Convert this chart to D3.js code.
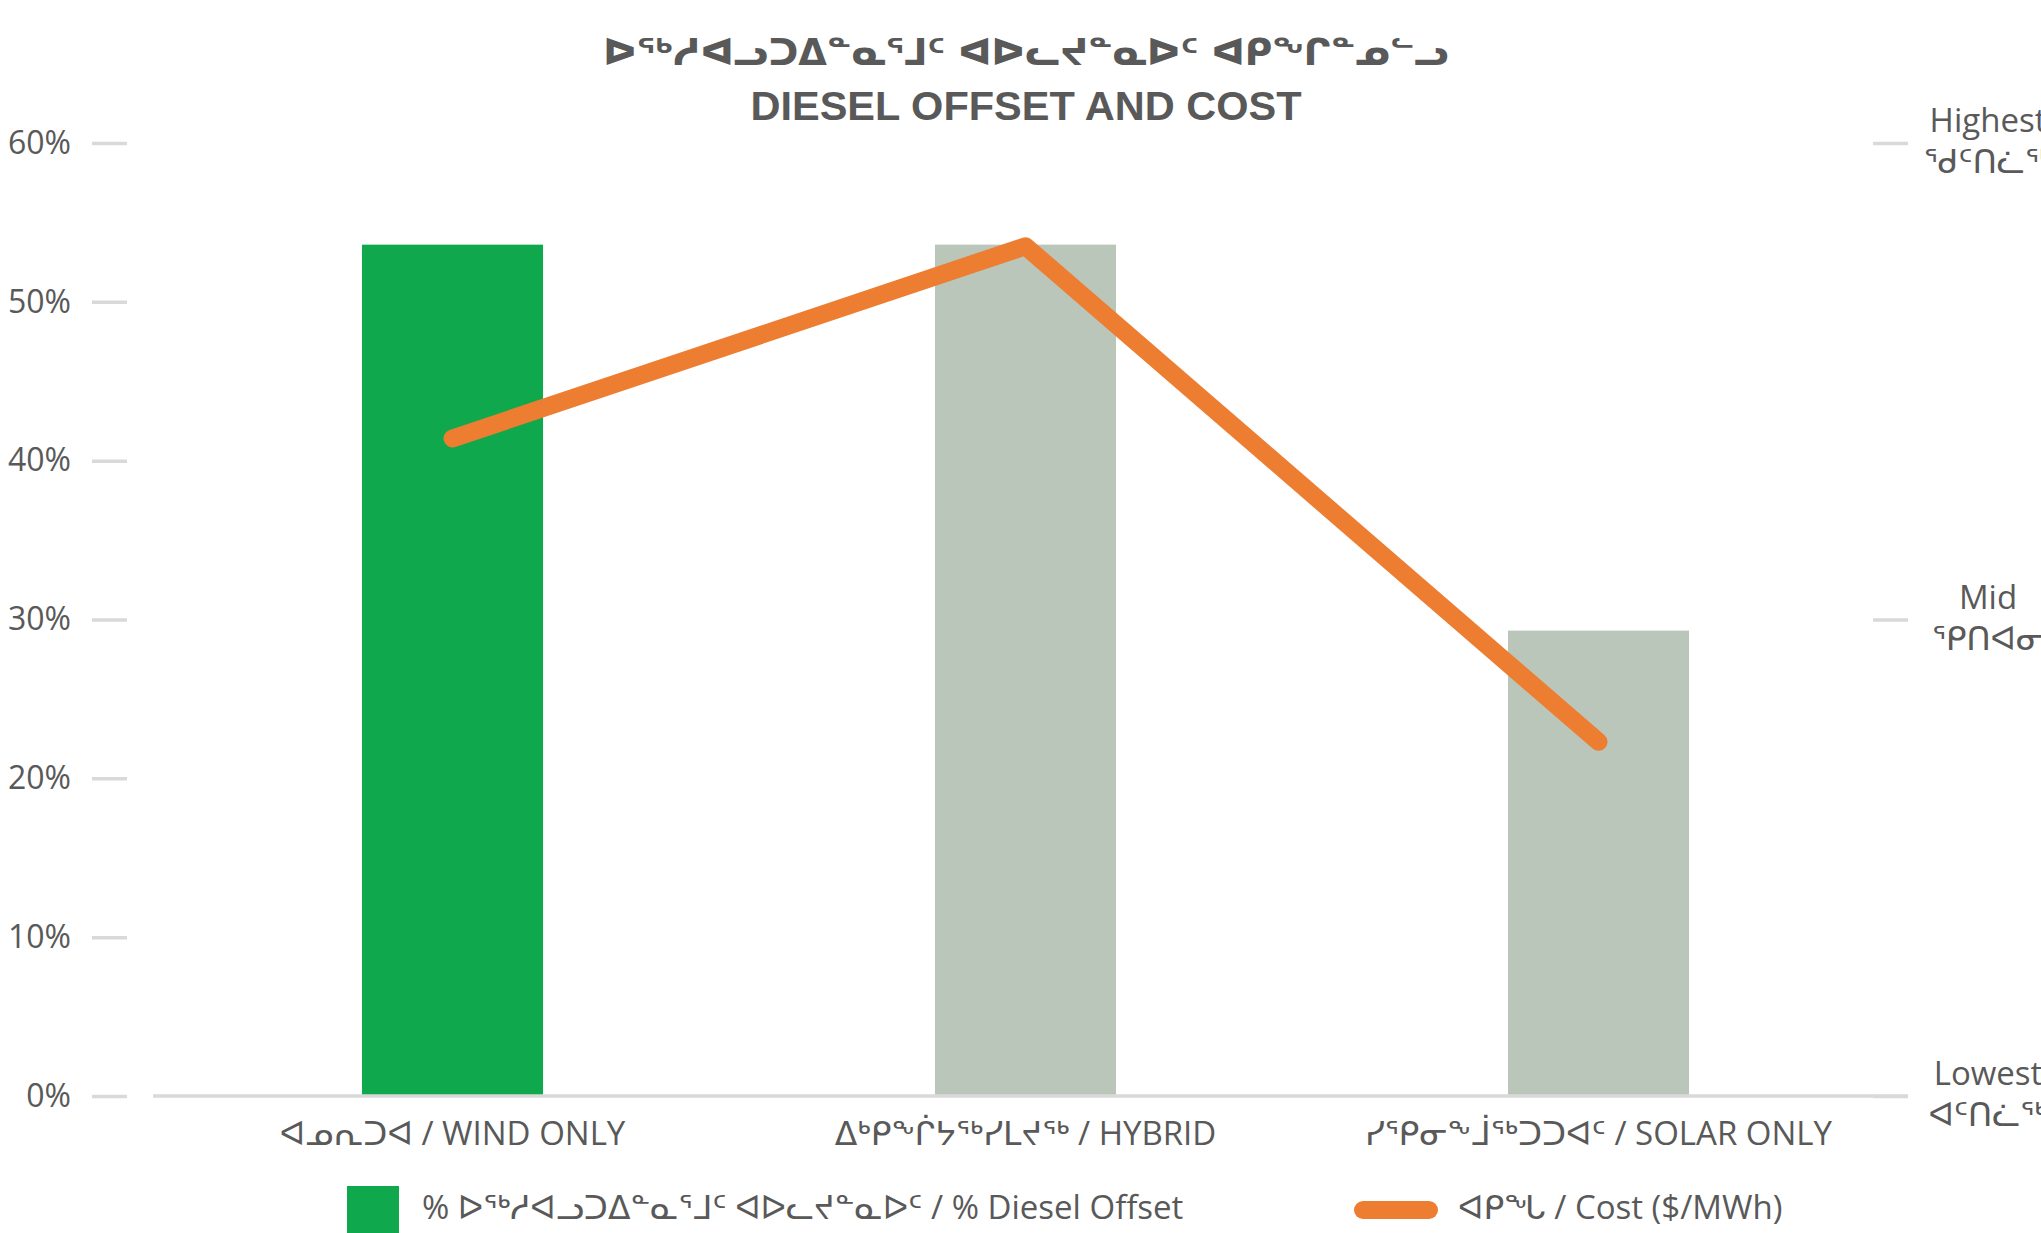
<!DOCTYPE html>
<html>
<head>
<meta charset="utf-8">
<script src="https://cdn.jsdelivr.net/npm/d3@7"></script>
<style>
  html, body { margin: 0; padding: 0; background: #fff; overflow: hidden; }
  svg { display: block; }
</style>
</head>
<body>
<div id="chart"></div>
<script>
// --- data ---
const titleLines = [
  "ᐅᖅᓱᐊᓗᑐᐃᓐᓇᕐᒧᑦ ᐊᐅᓚᔪᓐᓇᐅᑦ ᐊᑭᖏᓐᓄᓪᓗ",
  "DIESEL OFFSET AND COST",
];
const categories = [
  "ᐊᓄᕆᑐᐊ / WIND ONLY",
  "ᐃᒃᑭᖕᒌᔭᖅᓯᒪᔪᖅ / HYBRID",
  "ᓯᕿᓂᖕᒨᖅᑐᑐᐊᑦ / SOLAR ONLY",
];
const dieselOffset = [53.6, 53.6, 29.3]; // % diesel offset
const costIndex = [41.4, 53.5, 22.3]; // relative cost, plotted on the Lowest..Highest axis
const barColors = ["#10a84d", "#bac6ba", "#bac6ba"];
const leftTicks = [0, 10, 20, 30, 40, 50, 60];
const rightTicks = [0, 30, 60];
const rightTickLabels = [
  ["Lowest", "ᐊᑦᑎᓛᖅ"],
  ["Mid", "ᕿᑎᐊᓂ"],
  ["Highest", "ᖁᑦᑎᓛᖅ"],
];
const legendLabels = [
  "% ᐅᖅᓱᐊᓗᑐᐃᓐᓇᕐᒧᑦ ᐊᐅᓚᔪᓐᓇᐅᑦ / % Diesel Offset",
  "ᐊᑭᖓ / Cost ($/MWh)",
];

const width = 2041;
const height = 1233;
const textColor = "#595959";
const axisColor = "#d9d9d9";
const lineColor = "#ed7d31";
const font = "'Open Sans', 'DejaVu Sans', sans-serif";

const x = d3.scaleBand().domain(categories).range([166, 1885]).padding(0);
const y = d3.scaleLinear().domain([0, 60]).range([1096, 143]);
const yRight = d3.scaleLinear().domain([0, 60]).range([1096, 143]);
const barWidth = x.bandwidth() * 0.316;

const svg = d3
  .select("#chart")
  .append("svg")
  .attr("width", width)
  .attr("height", height)
  .attr("viewBox", `0 0 ${width} ${height}`)
  .style("font-family", font);

// title
svg
  .append("text")
  .attr("x", 1026)
  .attr("y", 54)
  .attr("text-anchor", "middle")
  .attr("dominant-baseline", "middle")
  .attr("fill", textColor)
  .attr("font-family", "'DejaVu Sans', sans-serif")
  .attr("font-size", 37)
  .attr("font-weight", 700)
  .text(titleLines[0]);

svg
  .append("text")
  .attr("x", 1026)
  .attr("y", 109)
  .attr("text-anchor", "middle")
  .attr("dominant-baseline", "middle")
  .attr("fill", textColor)
  .attr("font-family", "'Liberation Sans', Arial, sans-serif")
  .attr("font-size", 41.5)
  .attr("font-weight", 700)
  .text(titleLines[1]);

// left axis
svg
  .append("g")
  .attr("transform", "translate(127, 0)")
  .call(
    d3
      .axisLeft(y)
      .tickValues(leftTicks)
      .tickSize(35)
      .tickPadding(21)
      .tickFormat((d) => `${d}%`),
  )
  .call((axis) => axis.select(".domain").remove())
  .call((axis) =>
    axis.selectAll("line").attr("stroke", axisColor).attr("stroke-width", 3.5),
  )
  .call((axis) =>
    axis
      .selectAll("text")
      .attr("fill", textColor)
      .attr("font-size", 32)
      .attr("font-family", font),
  );

// bars
svg
  .append("g")
  .selectAll("rect")
  .data(dieselOffset)
  .join("rect")
  .attr("x", (d, i) => x(categories[i]) + x.bandwidth() / 2 - barWidth / 2)
  .attr("y", (d) => y(d))
  .attr("width", barWidth)
  .attr("height", (d) => y(0) - y(d))
  .attr("fill", (d, i) => barColors[i]);

// baseline
svg
  .append("line")
  .attr("x1", 153)
  .attr("x2", 1908)
  .attr("y1", y(0))
  .attr("y2", y(0))
  .attr("stroke", axisColor)
  .attr("stroke-width", 3.5);

// right axis
const rightAxis = svg
  .append("g")
  .attr("transform", "translate(1873, 0)")
  .call(d3.axisRight(yRight).tickValues(rightTicks).tickSize(35).tickFormat(""))
  .call((axis) => axis.select(".domain").remove())
  .call((axis) =>
    axis.selectAll("line").attr("stroke", axisColor).attr("stroke-width", 3.5),
  );

rightAxis.selectAll(".tick text").remove();
rightAxis
  .selectAll(".tick")
  .append("text")
  .attr("x", 115)
  .attr("text-anchor", "middle")
  .attr("fill", textColor)
  .attr("font-size", 33)
  .attr("font-family", font)
  .selectAll("tspan")
  .data((d) => rightTickLabels[rightTicks.indexOf(d)])
  .join("tspan")
  .attr("x", 115)
  .attr("y", (d, i) => (i === 0 ? -20 : 21))
  .attr("dominant-baseline", "middle")
  .text((d) => d);

// category labels
svg
  .append("g")
  .selectAll("text")
  .data(categories)
  .join("text")
  .attr("x", (d) => x(d) + x.bandwidth() / 2)
  .attr("y", 1136)
  .attr("text-anchor", "middle")
  .attr("dominant-baseline", "middle")
  .attr("fill", textColor)
  .attr("font-size", 33)
  .text((d) => d);

// cost line
const line = d3
  .line()
  .x((d, i) => x(categories[i]) + x.bandwidth() / 2)
  .y((d) => yRight(d));

svg
  .append("path")
  .datum(costIndex)
  .attr("d", line)
  .attr("fill", "none")
  .attr("stroke", lineColor)
  .attr("stroke-width", 18)
  .attr("stroke-linecap", "round")
  .attr("stroke-linejoin", "round");

// legend
const legend = svg.append("g");
legend
  .append("rect")
  .attr("x", 347)
  .attr("y", 1186)
  .attr("width", 52)
  .attr("height", 52)
  .attr("fill", barColors[0]);
legend
  .append("text")
  .attr("x", 422)
  .attr("y", 1210)
  .attr("dominant-baseline", "middle")
  .attr("fill", textColor)
  .attr("font-size", 33)
  .text(legendLabels[0]);
legend
  .append("line")
  .attr("x1", 1363)
  .attr("x2", 1429)
  .attr("y1", 1210)
  .attr("y2", 1210)
  .attr("stroke", lineColor)
  .attr("stroke-width", 18)
  .attr("stroke-linecap", "round");
legend
  .append("text")
  .attr("x", 1458)
  .attr("y", 1210)
  .attr("dominant-baseline", "middle")
  .attr("fill", textColor)
  .attr("font-size", 33)
  .text(legendLabels[1]);
</script>
</body>
</html>
